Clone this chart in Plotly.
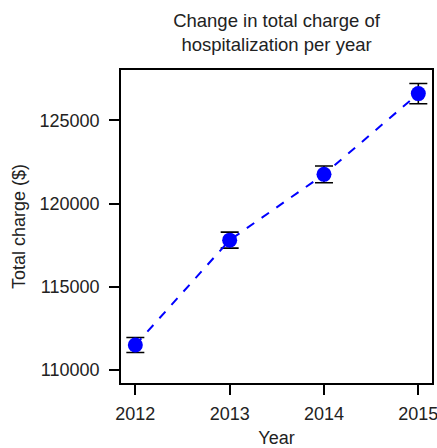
import plotly.graph_objects as go

# Mean total charge per year with standard-error bars
years = [2012, 2013, 2014, 2015]
total_charge = [111500, 117800, 121750, 126600]
charge_err = [450, 480, 500, 610]
y_ticks = [110000, 115000, 120000, 125000]

FONT = "Liberation Sans, Arial, Helvetica, sans-serif"
INK = "#222222"

fig = go.Figure()
fig.add_trace(go.Scatter(
    x=years,
    y=total_charge,
    mode="lines+markers",
    line=dict(color="#0000ff", width=2, dash="dash"),
    marker=dict(color="#0000ff", size=15, line=dict(width=0)),
    error_y=dict(type="data", array=charge_err, visible=True,
                 color="black", thickness=1.6, width=9),
    showlegend=False,
))

fig.update_layout(
    width=437,
    height=448,
    margin=dict(l=121, r=5, t=70, b=65, autoexpand=False),
    paper_bgcolor="white",
    plot_bgcolor="white",
    font=dict(family=FONT, size=18, color=INK),
    title=dict(
        text="Change in total charge of<br>hospitalization per year",
        x=(121 + 432) / 2 / 437,
        xanchor="center",
        y=1 - 27 / 448,
        yanchor="top",
        font=dict(family=FONT, size=18.5, color=INK),
    ),
)

fig.update_xaxes(
    range=[2011.848, 2015.145],
    tickvals=years,
    ticktext=[str(y) for y in years],
    automargin=False,
    ticklabeloverflow="allow",
    showgrid=False,
    zeroline=False,
    showline=True,
    linecolor="black",
    linewidth=1.6,
    mirror=True,
    ticks="outside",
    ticklen=10,
    tickwidth=1.5,
    tickcolor="black",
    ticklabelstandoff=4,
    title=dict(text="Year", standoff=10, font=dict(size=18)),
)
fig.update_yaxes(
    range=[109220, 128018],
    tickvals=y_ticks,
    ticktext=[str(v) for v in y_ticks],
    automargin=False,
    ticklabeloverflow="allow",
    showgrid=False,
    zeroline=False,
    showline=True,
    linecolor="black",
    linewidth=1.6,
    mirror=True,
    ticks="outside",
    ticklen=10,
    tickwidth=1.5,
    tickcolor="black",
    ticklabelstandoff=6,
    title=dict(text="Total charge ($)", standoff=9, font=dict(size=18)),
)

fig.write_html("out.html")
